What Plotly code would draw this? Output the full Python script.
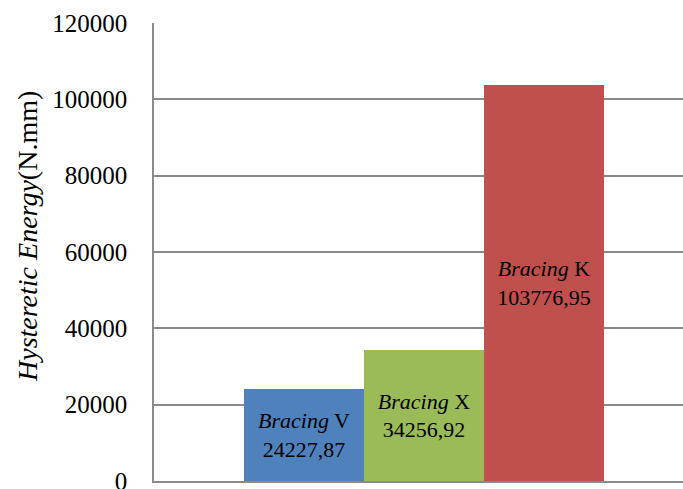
import plotly.graph_objects as go

# Hysteretic energy per bracing type
bracing_types = ["V", "X", "K"]
energy_values = [24227.87, 34256.92, 103776.95]
value_labels = ["24227,87", "34256,92", "103776,95"]
bar_colors = ["#4F81BD", "#9BBB59", "#C0504D"]
y_ticks = [0, 20000, 40000, 60000, 80000, 100000, 120000]

FONT = "Liberation Serif, Times New Roman, serif"

categories = [f"Bracing {t}" for t in bracing_types]
texts = [f"<i>Bracing</i> {t}<br>{v}" for t, v in zip(bracing_types, value_labels)]

fig = go.Figure(
    go.Bar(
        x=categories,
        y=energy_values,
        marker=dict(color=bar_colors, line=dict(width=0)),
        text=texts,
        texttemplate="%{text}",
        textposition="inside",
        insidetextanchor="middle",
        textangle=0,
        insidetextfont=dict(family=FONT, size=22, color="black"),
        hoverinfo="skip",
    )
)

W, H = 683, 489
ml, mt, mb = 154, 23, 8
plot_w = W - ml
plot_h = H - mt - mb

fig.update_layout(
    width=W,
    height=H,
    margin=dict(l=ml, r=0, t=mt, b=mb, autoexpand=False),
    paper_bgcolor="white",
    plot_bgcolor="white",
    showlegend=False,
    bargap=0,
    font=dict(family=FONT, color="black"),
    uniformtext=dict(mode=False),
)

fig.update_xaxes(
    type="category",
    range=[-1.25, -1.25 + plot_w / 120.0],
    showticklabels=False,
    showgrid=False,
    showline=True,
    linecolor="#8a8a8a",
    linewidth=1.5,
    zeroline=False,
    ticks="",
    automargin=False,
)

fig.update_yaxes(
    range=[0, 120000],
    tickvals=y_ticks,
    ticktext=[str(v) for v in y_ticks],
    tickfont=dict(family=FONT, size=25, color="black"),
    ticklabelstandoff=20,
    ticklabeloverflow="allow",
    automargin=False,
    showgrid=True,
    gridcolor="#8a8a8a",
    gridwidth=1.5,
    showline=True,
    linecolor="#8a8a8a",
    linewidth=1.5,
    zeroline=False,
    ticks="",
)

fig.add_annotation(
    text="<i>Hysteretic Energy</i>(N.mm)",
    textangle=-90,
    xref="paper",
    yref="paper",
    x=(27 - ml) / plot_w,
    y=(H - mb - 237) / plot_h,
    xanchor="center",
    yanchor="middle",
    showarrow=False,
    font=dict(family=FONT, size=28, color="black"),
)

fig.write_html("out.html")
